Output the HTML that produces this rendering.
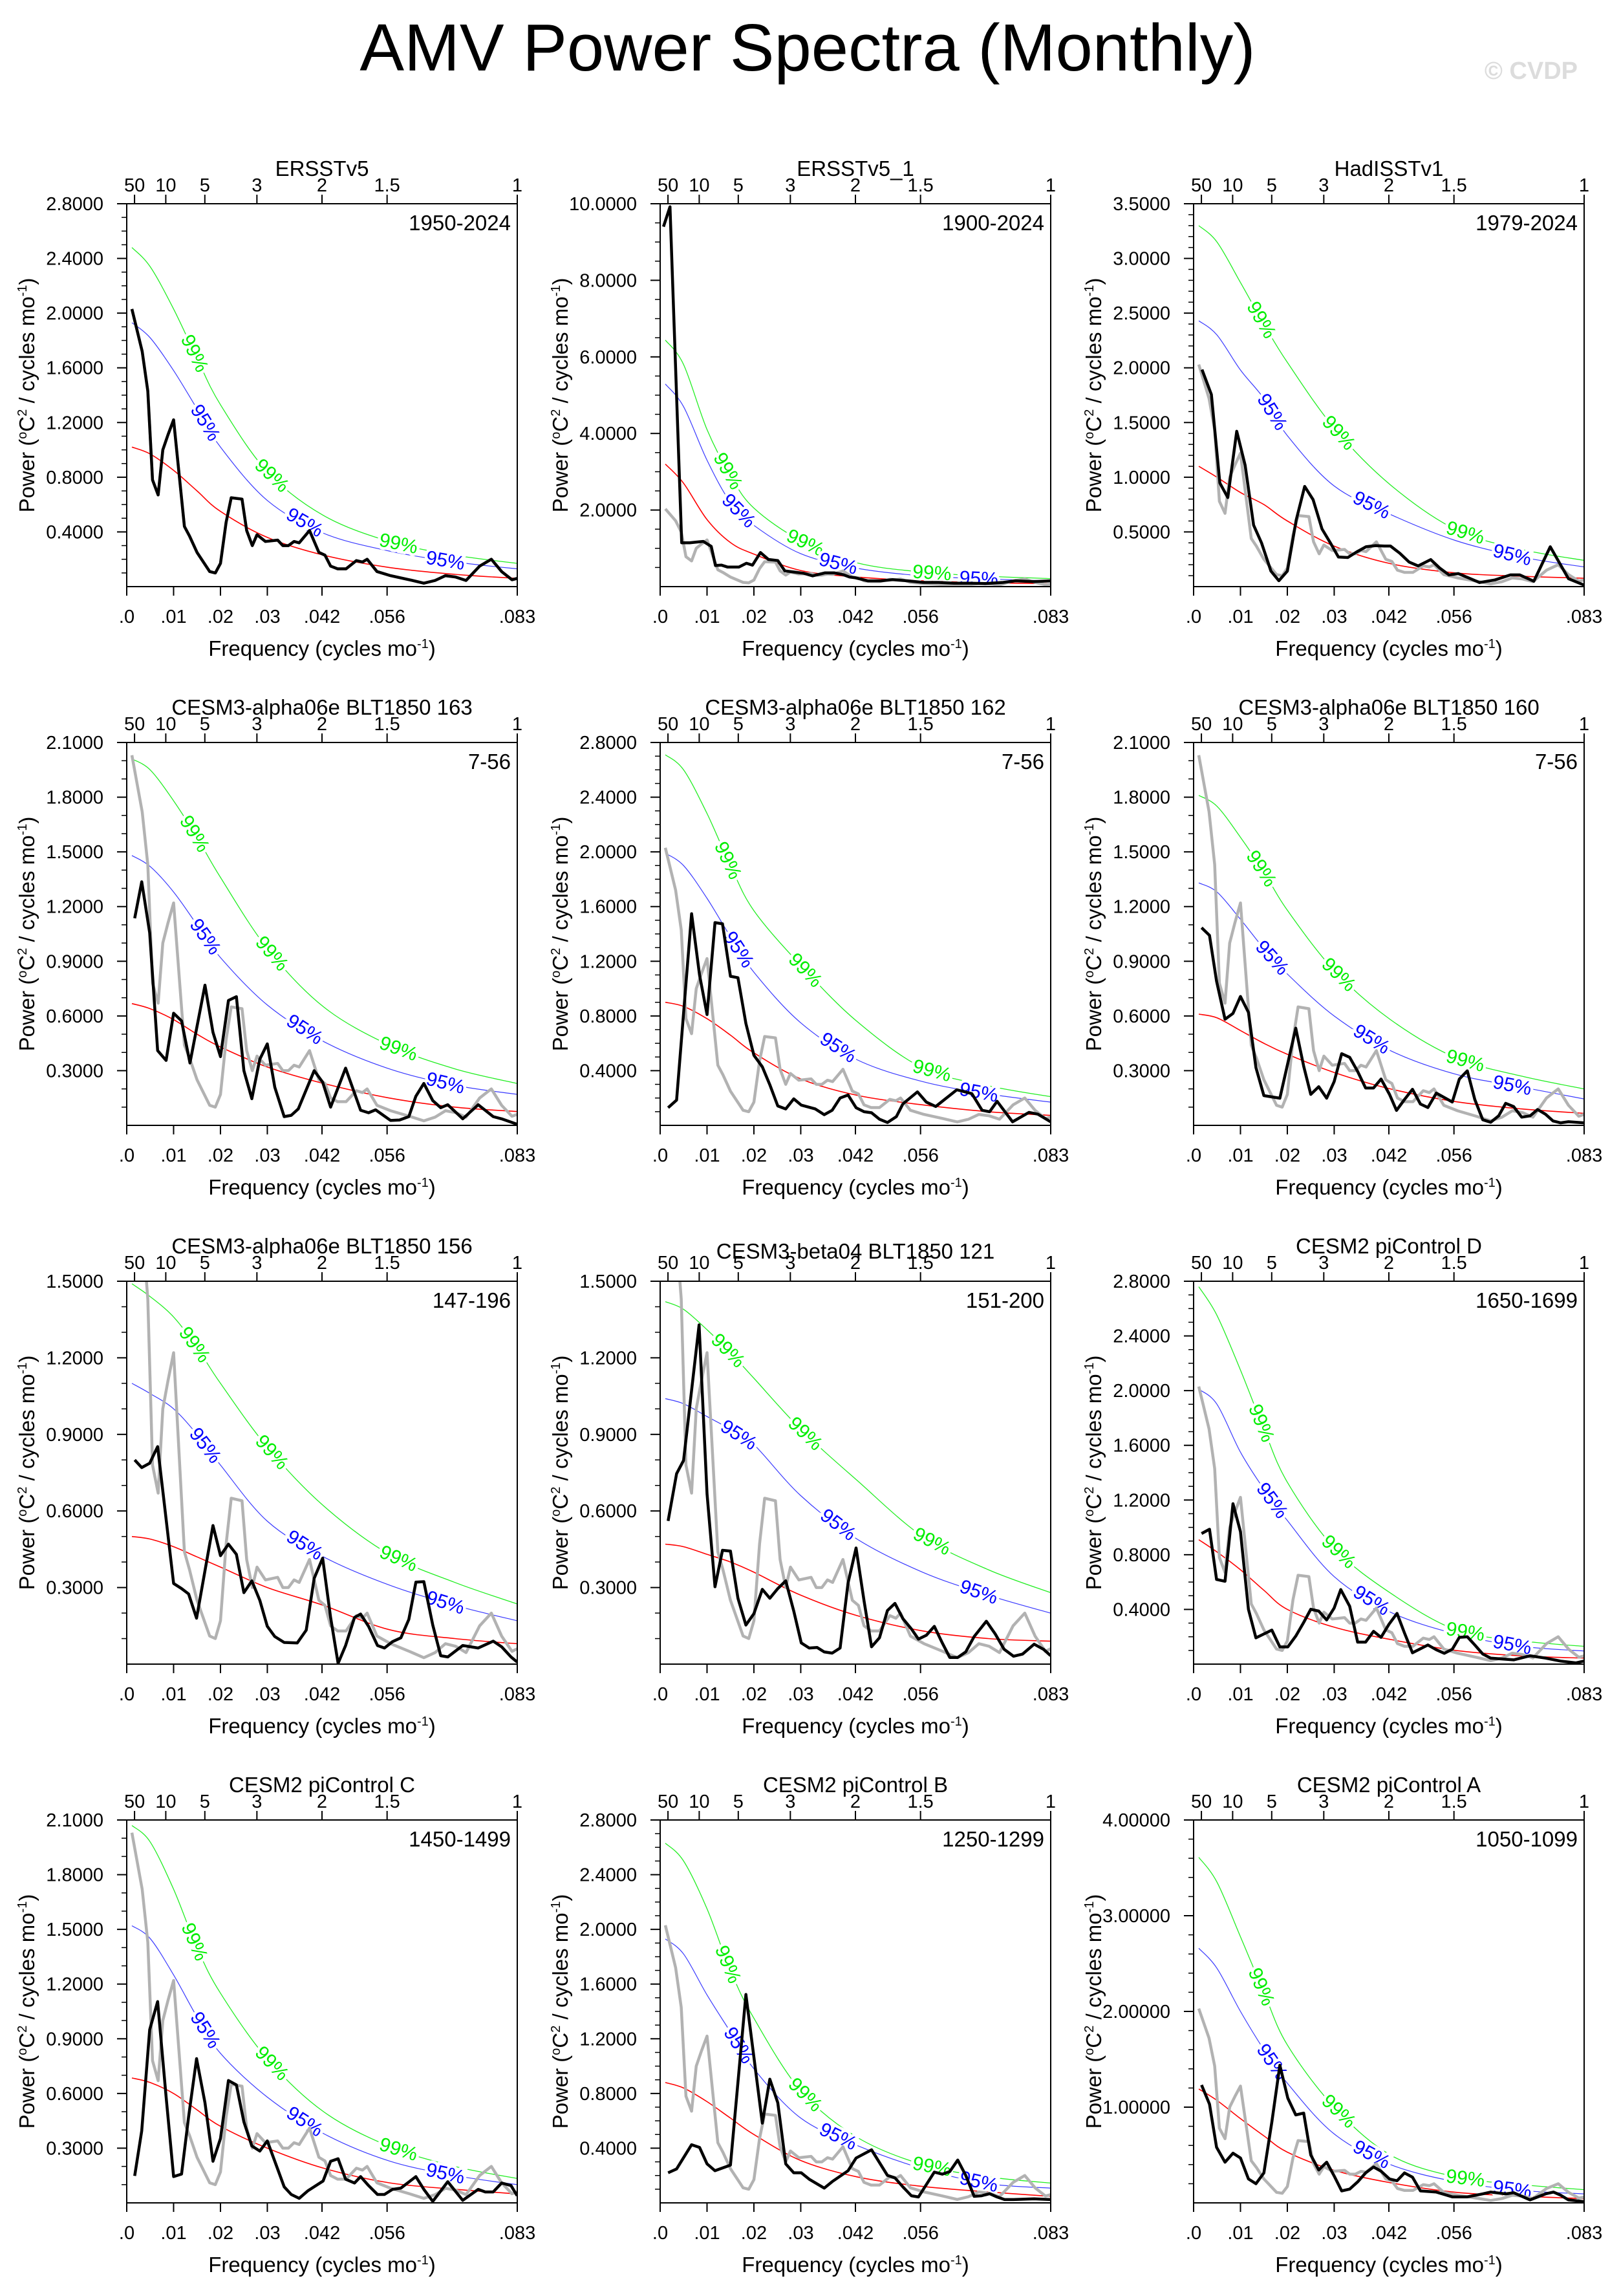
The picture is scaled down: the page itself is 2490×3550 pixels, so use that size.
<!DOCTYPE html>
<html><head><meta charset="utf-8"><title>AMV Power Spectra (Monthly)</title>
<style>html,body{margin:0;padding:0;background:#fff;}svg{display:block;font-family:"Liberation Sans",Arial,sans-serif;}</style>
</head><body>
<svg id="chart" xmlns="http://www.w3.org/2000/svg" width="2490" height="3550" viewBox="0 0 2490 3550">
<rect x="0" y="0" width="2490" height="3550" fill="#fff"/>
<text x="1249" y="109" font-size="103" text-anchor="middle" fill="#000">AMV Power Spectra (Monthly)</text>
<text x="2440" y="122" font-size="38" font-weight="bold" text-anchor="end" fill="#dcdcdc">© CVDP</text>
</svg>
<script>
// ---------- data ----------
const sampleFreqs = [0.0011,0.005,0.01,0.015,0.02,0.03,0.042,0.056,0.07,0.0833];
const bottomTickValues = [0,0.01,0.02,0.03,0.041667,0.055556,0.083333];
const bottomTickLabels = [".0",".01",".02",".03",".042",".056",".083"];
const topTickPeriods = [50,10,5,3,2,1.5,1];
const topTickLabels = ["50","10","5","3","2","1.5","1"];

const panelTitles = ["ERSSTv5","ERSSTv5_1","HadISSTv1","CESM3-alpha06e BLT1850 163","CESM3-alpha06e BLT1850 162","CESM3-alpha06e BLT1850 160","CESM3-alpha06e BLT1850 156","CESM3-beta04 BLT1850 121","CESM2 piControl D","CESM2 piControl C","CESM2 piControl B","CESM2 piControl A"];
const panelPeriods = ["1950-2024","1900-2024","1979-2024","7-56","7-56","7-56","147-196","151-200","1650-1699","1450-1499","1250-1299","1050-1099"];
const panelYMax = [2.8,10,3.5,2.1,2.8,2.1,1.5,1.5,2.8,2.1,2.8,4.0];
const panelYMajor = [0.4,2,0.5,0.3,0.4,0.3,0.3,0.3,0.4,0.3,0.4,1.0];
const panelYMinor = [0.1,0.5,0.1,0.1,0.1,0.1,0.1,0.1,0.1,0.1,0.1,0.2];
const panelDecimals = [4,4,4,4,4,4,4,4,4,4,4,5];

// observations (ERSSTv5 1950-2024), drawn grey in every panel
const obsFreq = [.0011,.0033,.0045,.0055,.0067,.0077,.0088,.0100,.0123,.0134,.015,.0177,.0189,.020,.0212,.0223,.0246,.0256,.0268,.0278,.0296,.0322,.0333,.0345,.0357,.0368,.039,.041,.0423,.0435,.045,.0468,.049,.0503,.0513,.0534,.0563,.0603,.0634,.0658,.068,.0702,.0724,.0753,.0778,.080,.0822,.0833];
const obsPow = [2.03,1.72,1.43,.78,.67,1.0,1.11,1.22,.44,.37,.25,.11,.10,.17,.47,.65,.64,.41,.30,.38,.33,.34,.30,.30,.33,.32,.41,.25,.23,.15,.13,.13,.19,.18,.20,.11,.08,.05,.025,.045,.08,.07,.045,.15,.20,.11,.05,.06];

const blackFreq1 = obsFreq;
const blackPow1 = obsPow;
const blackFreq2 = [.0007,.0021,.0046,.0063,.0076,.0092,.0109,.0118,.0131,.0144,.0168,.0184,.0197,.0214,.0231,.0251,.0266,.0286,.0306,.0325,.0352,.0371,.0391,.0404,.0417,.0443,.047,.0496,.0529,.0561,.0594,.0627,.066,.0693,.0732,.0758,.0797,.0833];
const blackPow2 = [9.4,9.92,1.145,1.145,1.16,1.18,1.05,.55,.56,.51,.51,.61,.56,.89,.71,.68,.41,.38,.35,.28,.36,.36,.31,.25,.23,.15,.15,.18,.15,.11,.11,.09,.09,.08,.11,.15,.13,.15];
const blackFreq3 = [.0018,.0038,.0056,.0073,.0092,.011,.0128,.0145,.0165,.0182,.02,.0219,.0237,.0255,.0274,.0292,.0309,.0329,.0348,.0368,.0388,.0407,.042,.044,.046,.0479,.0506,.0525,.0545,.0565,.0591,.061,.0643,.0676,.0696,.0726,.0761,.08,.0833];
const blackPow3 = [1.984,1.756,.947,.814,1.42,1.11,.562,.399,.142,.054,.142,.609,.916,.795,.527,.399,.27,.266,.317,.364,.375,.371,.371,.305,.224,.189,.247,.17,.107,.119,.072,.037,.061,.107,.107,.049,.364,.072,.014];
const blackFreq4 = [.0017,.0032,.0049,.0066,.0084,.010,.0117,.0135,.0167,.0184,.0200,.0217,.0234,.025,.0267,.0284,.030,.0316,.0336,.0351,.0366,.040,.0418,.0435,.0467,.0499,.0516,.0531,.0563,.0582,.0602,.0617,.0634,.0653,.067,.0685,.0717,.075,.0782,.080,.0833];
const blackPow4 = [1.136,1.336,1.056,.41,.356,.615,.573,.342,.769,.51,.377,.685,.706,.30,.146,.363,.447,.209,.048,.055,.09,.30,.237,.10,.314,.083,.069,.085,.027,.029,.048,.16,.23,.136,.097,.113,.036,.113,.048,.036,.006];
const blackFreq5 = [.0017,.0035,.0067,.0084,.0100,.0117,.0133,.015,.0166,.0183,.02,.0218,.0234,.0251,.0268,.0285,.0301,.0331,.035,.0367,.0384,.0401,.0418,.0435,.0451,.0468,.0485,.0504,.0518,.0549,.0568,.0588,.0633,.0665,.0687,.0703,.0719,.0752,.0787,.0806,.0833];
const blackPow5 = [.129,.185,1.548,1.10,.81,1.483,1.474,1.09,1.08,.745,.512,.428,.297,.142,.12,.194,.148,.12,.078,.11,.20,.222,.129,.10,.092,.045,.021,.064,.157,.245,.17,.138,.26,.232,.11,.10,.176,.026,.095,.082,.026];
const blackFreq6 = [.0017,.0034,.0049,.0067,.0084,.010,.0117,.0133,.015,.0184,.0218,.0235,.025,.0267,.0284,.03,.0316,.0333,.035,.0367,.0384,.040,.0418,.0433,.045,.0467,.0484,.050,.0518,.0552,.0567,.0584,.060,.0617,.0634,.0651,.0666,.0683,.07,.0718,.0734,.0751,.0767,.0783,.080,.0833];
const blackPow6 = [1.084,1.042,.791,.582,.614,.707,.62,.317,.163,.149,.533,.324,.17,.212,.149,.24,.393,.373,.296,.205,.205,.254,.17,.082,.142,.198,.117,.098,.177,.128,.254,.299,.142,.031,.017,.052,.121,.103,.045,.052,.087,.061,.024,.014,.020,.014];
const blackFreq7 = [.0017,.0032,.0049,.0066,.010,.0117,.0132,.0149,.0184,.02,.0217,.0234,.025,.0267,.0284,.030,.0316,.0336,.0364,.0383,.04,.0418,.0435,.0451,.0467,.0486,.0499,.0516,.0535,.055,.0567,.0585,.0602,.0617,.0634,.0653,.067,.0685,.0717,.075,.0782,.080,.082,.0833];
const blackPow7 = [.80,.77,.787,.852,.316,.296,.275,.18,.543,.425,.47,.43,.28,.326,.25,.148,.108,.085,.083,.133,.336,.415,.183,.003,.073,.183,.196,.148,.073,.063,.088,.103,.175,.321,.323,.153,.033,.028,.073,.063,.09,.068,.028,.008];
const blackFreq8 = [.0017,.0035,.005,.0083,.01,.0117,.0133,.015,.0166,.0183,.02,.0218,.0234,.0251,.0268,.0285,.0301,.0318,.0335,.035,.0367,.0384,.0401,.0418,.0435,.0451,.0468,.0485,.0501,.0518,.0536,.0551,.0568,.0585,.0602,.0618,.0635,.0652,.067,.0696,.0715,.0734,.0754,.0773,.0798,.0818,.0833];
const blackPow8 = [.561,.746,.798,1.329,.667,.303,.446,.443,.258,.153,.198,.293,.258,.296,.326,.208,.083,.063,.065,.048,.043,.063,.318,.455,.248,.068,.103,.21,.238,.178,.138,.098,.113,.148,.083,.026,.026,.048,.108,.168,.118,.058,.031,.039,.078,.058,.033];
const blackFreq9 = [.0017,.0034,.0049,.0067,.0084,.010,.0117,.0133,.0167,.0184,.0201,.0218,.0235,.025,.0267,.0284,.03,.0314,.0333,.035,.0367,.0384,.040,.0417,.0434,.045,.0467,.050,.0518,.0535,.0552,.0567,.0584,.060,.0617,.0634,.0683,.0718,.0751,.0783,.0816,.0833];
const blackPow9 = [.955,.986,.619,.606,1.173,.968,.401,.192,.249,.126,.126,.205,.305,.401,.388,.323,.41,.545,.423,.161,.161,.24,.196,.292,.371,.227,.083,.14,.105,.079,.109,.196,.20,.14,.074,.044,.031,.061,.044,.022,.009,.022];
const blackFreq10 = [.0017,.0032,.0049,.0066,.0084,.010,.0117,.0132,.0149,.0167,.0184,.02,.0217,.0234,.025,.0267,.0284,.030,.0316,.0336,.0351,.0368,.0387,.0419,.0435,.0451,.0467,.0486,.0499,.0516,.0535,.055,.0567,.0585,.0617,.0634,.0653,.0685,.0717,.075,.0765,.0782,.080,.082,.0833];
const blackPow10 = [.148,.395,.95,1.104,.581,.144,.158,.472,.791,.549,.228,.353,.671,.647,.444,.312,.284,.34,.228,.088,.046,.025,.067,.12,.228,.242,.13,.109,.144,.095,.046,.046,.074,.081,.144,.074,.008,.116,.014,.074,.06,.06,.109,.095,.039];
const blackFreq11 = [.0017,.0035,.0067,.0084,.01,.0117,.015,.0183,.0218,.0234,.0251,.0268,.0285,.0301,.0318,.035,.0367,.0401,.0418,.0451,.0485,.0501,.0518,.0536,.0551,.0585,.0602,.0618,.0635,.0652,.067,.0686,.0703,.0719,.0735,.0754,.0798,.0833];
const blackPow11 = [.22,.248,.425,.406,.285,.235,.276,1.524,.583,.905,.732,.285,.22,.22,.173,.108,.155,.235,.328,.388,.201,.183,.117,.052,.043,.225,.21,.229,.313,.201,.048,.052,.067,.043,.024,.024,.03,.024];
const blackFreq12 = [.0017,.0034,.0049,.0067,.0084,.010,.0117,.0133,.015,.0167,.0184,.0201,.0218,.0235,.025,.0267,.0284,.030,.0316,.0333,.035,.0367,.0384,.040,.0418,.0434,.045,.0467,.0484,.0518,.0552,.0584,.0617,.0634,.0666,.0683,.0718,.0751,.0768,.0783,.080,.0833];
const blackPow12 = [1.231,1.031,.581,.425,.519,.469,.25,.20,.313,.844,1.438,1.094,.919,.938,.50,.344,.425,.281,.125,.144,.219,.313,.375,.331,.25,.231,.313,.269,.125,.113,.063,.063,.094,.113,.094,.106,.031,.094,.113,.081,.031,.013];

// red-noise fit and significance levels, sampled at sampleFreqs
const redPow = [
 [1.02,0.97,0.85,0.70,0.55,0.36,0.23,0.14,0.09,0.06],
 [3.2,2.7,1.75,1.15,.85,.42,.25,.15,.10,.08],
 [1.10,1.0,.86,.75,.60,.37,.21,.125,.095,.077],
 [.668,.64,.58,.50,.43,.32,.23,.15,.10,.076],
 [.90,.87,.78,.66,.53,.34,.22,.15,.10,.073],
 [.61,.59,.52,.45,.39,.29,.20,.13,.09,.066],
 [.50,.49,.46,.42,.38,.30,.23,.135,.10,.08],
 [.47,.46,.43,.40,.36,.27,.19,.13,.10,.09],
 [.91,.82,.69,.54,.40,.27,.18,.10,.06,.044],
 [.685,.66,.60,.51,.42,.30,.19,.11,.075,.049],
 [.88,.84,.74,.62,.50,.31,.19,.12,.08,.048],
 [1.19,1.07,.88,.70,.53,.34,.21,.11,.07,.044]];
const bluePow = [
 [1.93,1.82,1.58,1.30,1.02,0.63,0.39,0.26,0.18,0.13],
 [5.29,4.7,3.3,2.2,1.6,.86,.48,.28,.2,.15],
 [2.43,2.3,1.98,1.72,1.38,.92,.66,.42,.27,.18],
 [1.48,1.42,1.28,1.10,0.92,0.66,0.46,0.31,0.22,0.17],
 [1.99,1.90,1.66,1.38,1.12,0.75,0.48,0.32,0.23,0.17],
 [1.33,1.28,1.13,.97,.83,.60,.41,.28,.21,.145],
 [1.10,1.06,1.00,.90,.78,.56,.42,.31,.23,.17],
 [1.04,1.02,.97,.92,.86,.66,.49,.36,.27,.20],
 [2.01,1.90,1.55,1.28,1.05,.64,.38,.22,.13,.096],
 [1.52,1.45,1.25,1.02,.82,.58,.38,.23,.15,.10],
 [1.93,1.82,1.52,1.25,.98,.62,.42,.25,.14,.108],
 [2.66,2.45,2.0,1.60,1.25,.72,.40,.22,.13,.094]];
const greenPow = [
 [2.48,2.34,2.03,1.67,1.33,0.84,0.52,0.33,0.23,0.17],
 [6.44,5.8,4.1,2.9,2.05,1.2,.62,.38,.27,.21],
 [3.30,3.15,2.78,2.40,2.05,1.45,.93,.52,.34,.24],
 [2.01,1.95,1.78,1.58,1.36,0.97,0.65,0.44,0.31,0.23],
 [2.71,2.60,2.28,1.90,1.57,1.17,0.76,0.42,0.29,0.21],
 [1.81,1.75,1.58,1.39,1.18,.85,.58,.37,.27,.20],
 [1.49,1.44,1.36,1.24,1.10,.85,.62,.43,.32,.236],
 [1.42,1.39,1.31,1.22,1.12,.92,.72,.50,.37,.28],
 [2.76,2.55,2.15,1.72,1.33,.85,.52,.25,.17,.13],
 [2.07,1.98,1.72,1.40,1.15,.79,.50,.31,.20,.134],
 [2.63,2.50,2.15,1.70,1.35,.82,.48,.28,.19,.145],
 [3.61,3.35,2.78,2.20,1.65,1.00,.50,.27,.19,.138]];
const greenLabelFreqs = [0.0145,0.031,0.058];
const blueLabelFreqs = [0.0168,0.038,0.068];

const blackFreqs = [blackFreq1,blackFreq2,blackFreq3,blackFreq4,blackFreq5,blackFreq6,blackFreq7,blackFreq8,blackFreq9,blackFreq10,blackFreq11,blackFreq12];
const blackPows = [blackPow1,blackPow2,blackPow3,blackPow4,blackPow5,blackPow6,blackPow7,blackPow8,blackPow9,blackPow10,blackPow11,blackPow12];

// ---------- drawing ----------
const NS = "http://www.w3.org/2000/svg";
const svg = document.getElementById("chart");
const FMAX = 1/12;
function mk(tag, attrs, parent){
  const e = document.createElementNS(NS, tag);
  for (const k in attrs) e.setAttribute(k, attrs[k]);
  (parent || svg).appendChild(e);
  return e;
}
function smoothPath(pts){
  let d = "M" + pts[0][0].toFixed(1) + "," + pts[0][1].toFixed(1);
  for (let i = 0; i < pts.length - 1; i++){
    const p0 = pts[Math.max(0,i-1)], p1 = pts[i], p2 = pts[i+1], p3 = pts[Math.min(pts.length-1,i+2)];
    const c1x = p1[0] + (p2[0]-p0[0])/6, c1y = p1[1] + (p2[1]-p0[1])/6;
    const c2x = p2[0] - (p3[0]-p1[0])/6, c2y = p2[1] - (p3[1]-p1[1])/6;
    d += " C" + c1x.toFixed(1)+","+c1y.toFixed(1)+" "+c2x.toFixed(1)+","+c2y.toFixed(1)+" "+p2[0].toFixed(1)+","+p2[1].toFixed(1);
  }
  return d;
}
function interp(xs, ys, x){
  if (x <= xs[0]) return ys[0];
  for (let i = 0; i < xs.length-1; i++){
    if (x <= xs[i+1]){ const t = (x-xs[i])/(xs[i+1]-xs[i]); return ys[i] + t*(ys[i+1]-ys[i]); }
  }
  return ys[ys.length-1];
}

for (let p = 0; p < 12; p++){
  const col = p % 3, row = Math.floor(p / 3);
  const L = 196 + 825*col, T = 315 + 833*row, W = 604, H = 592;
  const ymax = panelYMax[p];
  const xf = f => L + f / FMAX * W;
  const yv = v => T + H - v / ymax * H;

  const g = mk("g", {});
  
  

  const cp = mk("clipPath", {id: "clip" + p}, g);
  mk("rect", {x: L, y: T, width: W, height: H}, cp);

  const title = mk("text", {x: L + W/2, y: T - 43 + (p === 7 ? 8 : 0), "font-size": 33, "text-anchor": "middle"}, g);
  title.textContent = panelTitles[p];
  
  

  const per = mk("text", {x: L + W - 10, y: T + 41, "font-size": 33, "text-anchor": "end"}, g);
  per.textContent = panelPeriods[p];
  
  

  const minor = panelYMinor[p], major = panelYMajor[p];
  const nMinor = Math.round(ymax / minor);
  for (let k = 1; k <= nMinor; k++){
    const v = k * minor;
    const isMajor = Math.abs(v/major - Math.round(v/major)) < 1e-6;
    const tk = mk("line", {x1: L - (isMajor ? 15 : 8), x2: L, y1: yv(v), y2: yv(v), stroke: "#000", "stroke-width": isMajor ? 2 : 1.5}, g);
    
    
    if (isMajor){
      const tl = mk("text", {x: L - 36, y: yv(v) + 10, "font-size": 29, "text-anchor": "end"}, g);
      tl.textContent = v.toFixed(panelDecimals[p]);
      
      
    }
  }
  for (let i = 0; i < bottomTickValues.length; i++){
    const x = xf(bottomTickValues[i]);
    const bt = mk("line", {x1: x, x2: x, y1: T + H, y2: T + H + 14, stroke: "#000", "stroke-width": 2}, g);
    
    
    const bl = mk("text", {x: x, y: T + H + 56, "font-size": 29, "text-anchor": "middle"}, g);
    bl.textContent = bottomTickLabels[i];
    
    
  }
  for (let i = 0; i < topTickPeriods.length; i++){
    const x = xf(1 / (12 * topTickPeriods[i]));
    const tt = mk("line", {x1: x, x2: x, y1: T, y2: T - 14, stroke: "#000", "stroke-width": 2}, g);
    
    
    const tl = mk("text", {x: x, y: T - 19, "font-size": 29, "text-anchor": "middle"}, g);
    tl.textContent = topTickLabels[i];
    
    
  }
  const xt = mk("text", {x: L + W/2, y: T + H + 107, "font-size": 33, "text-anchor": "middle"}, g);
  xt.innerHTML = 'Frequency (cycles mo<tspan dy="-12" font-size="20">-1</tspan><tspan dy="12">)</tspan>';
  
  
  const yx = L - 143, yy = T + H/2;
  const yt = mk("text", {x: yx, y: yy, "font-size": 33, "text-anchor": "middle", transform: "rotate(-90 " + yx + " " + yy + ")"}, g);
  yt.innerHTML = 'Power (<tspan dy="-12" font-size="20">o</tspan><tspan dy="12">C</tspan><tspan dy="-12" font-size="20">2</tspan><tspan dy="12"> / cycles mo</tspan><tspan dy="-12" font-size="20">-1</tspan><tspan dy="12">)</tspan>';
  
  

  const data = mk("g", {"clip-path": "url(#clip" + p + ")"}, g);
  
  

  const curves = [[greenPow[p], "#22ee22", 1.3, "green-99-curve"], [bluePow[p], "#3a3aff", 1.2, "blue-95-curve"], [redPow[p], "#ff0000", 1.6, "red-noise-curve"]];
  for (const c of curves){
    const pts = sampleFreqs.map((f, i) => [xf(f), yv(c[0][i])]);
    const path = mk("path", {d: smoothPath(pts), fill: "none", stroke: c[1], "stroke-width": c[2]}, data);
    
    
  }
  const labelSets = [[greenPow[p], greenLabelFreqs, "99%", "#00ee00", "label-99"], [bluePow[p], blueLabelFreqs, "95%", "#0000ff", "label-95"]];
  for (const s of labelSets){
    for (const f of s[1]){
      const x = xf(f), y = yv(interp(sampleFreqs, s[0], f));
      const xa = xf(f - 0.002), ya = yv(interp(sampleFreqs, s[0], f - 0.002));
      const xb = xf(f + 0.002), yb = yv(interp(sampleFreqs, s[0], f + 0.002));
      const ang = Math.atan2(yb - ya, xb - xa) * 180 / Math.PI;
      const lb = mk("text", {x: x, y: y + 10, "font-size": 30, "text-anchor": "middle", fill: s[3], stroke: "#fff", "stroke-width": 9, "paint-order": "stroke", transform: "rotate(" + ang.toFixed(1) + " " + x.toFixed(1) + " " + y.toFixed(1) + ")"}, data);
      lb.textContent = s[2];
      
      
    }
  }
  const gp = obsFreq.map((f, i) => xf(f).toFixed(1) + "," + yv(obsPow[i]).toFixed(1)).join(" ");
  const gl = mk("polyline", {points: gp, fill: "none", stroke: "#b2b2b2", "stroke-width": 4.5, "stroke-linejoin": "round"}, data);
  
  
  const bf = blackFreqs[p], bpw = blackPows[p];
  const n = Math.min(bf.length, bpw.length);
  const bp = [];
  for (let i = 0; i < n; i++) bp.push(xf(bf[i]).toFixed(1) + "," + yv(bpw[i]).toFixed(1));
  const bl = mk("polyline", {points: bp.join(" "), fill: "none", stroke: "#000", "stroke-width": 4.5, "stroke-linejoin": "round"}, data);
  
  

  const fr = mk("rect", {x: L, y: T, width: W, height: H, fill: "none", stroke: "#000", "stroke-width": 2}, g);
  
  
}
</script>
</body></html>
